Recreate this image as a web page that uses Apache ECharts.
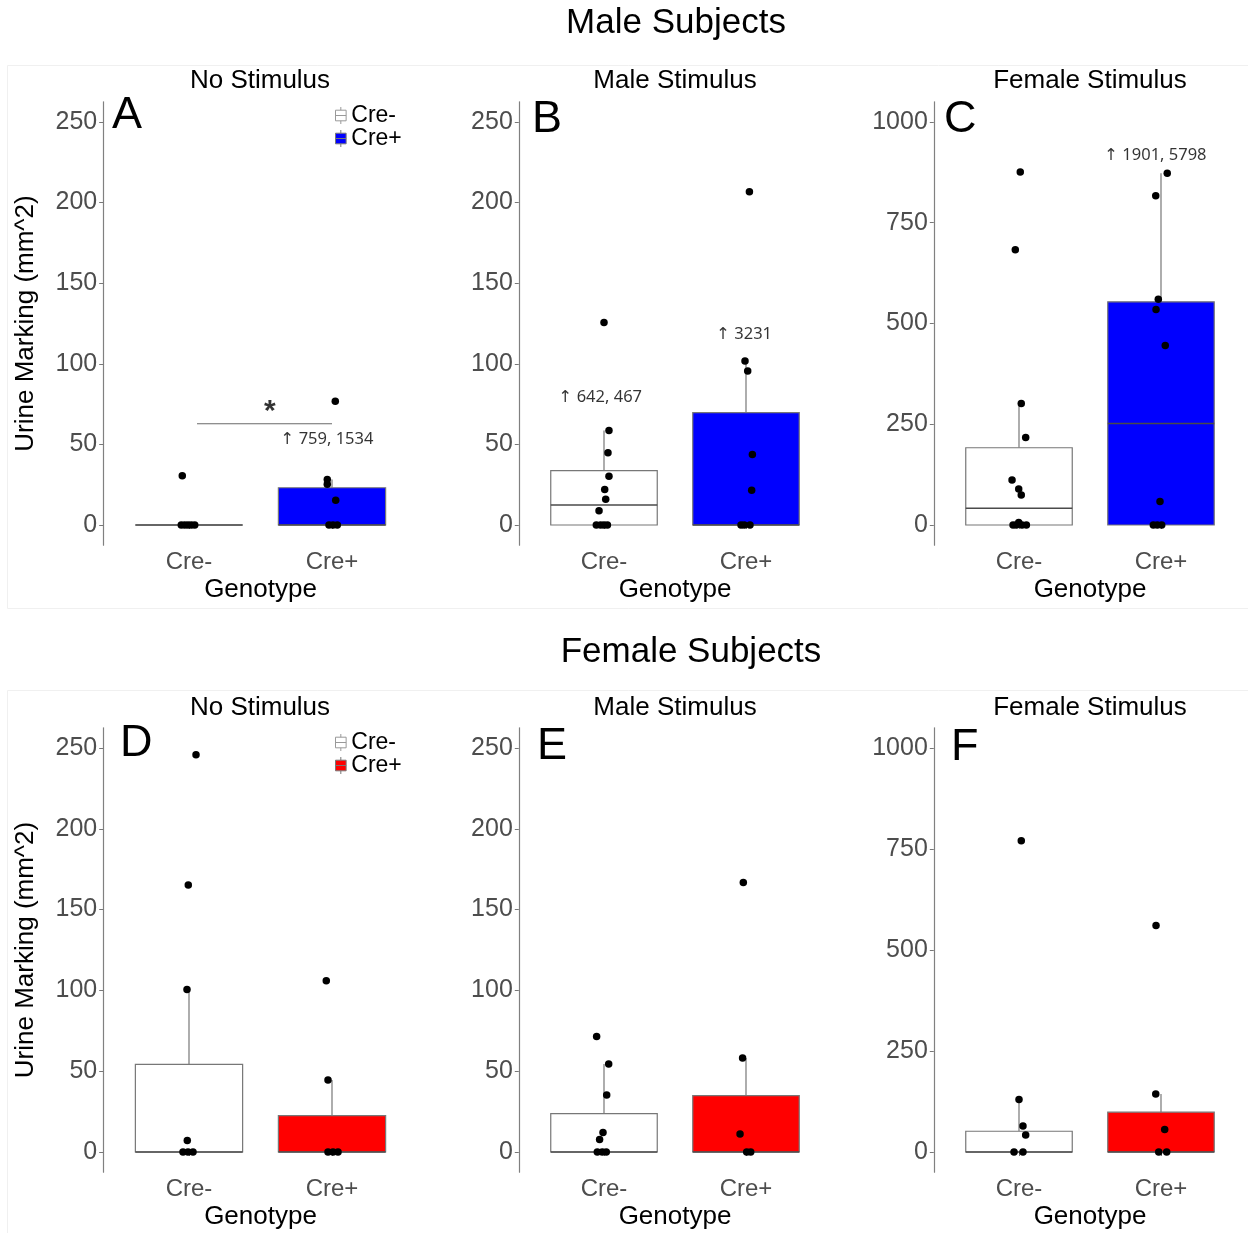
<!DOCTYPE html>
<html>
<head>
<meta charset="utf-8">
<title>Urine marking</title>
<script src="https://cdn.jsdelivr.net/npm/echarts@6/dist/echarts.min.js"></script>
<style>
  html, body { margin: 0; padding: 0; background: #fff; }
  #chart { width: 1248px; height: 1233px; }
</style>
</head>
<body>
<div id="chart"></div>
<script>
// categories / ticks
const genotypes = ['Cre-', 'Cre+'];
const ticksSmall = [0, 50, 100, 150, 200, 250];
const ticksLarge = [0, 250, 500, 750, 1000];

// box stats per panel: [x, q1, median, q3, upper whisker]
const boxA = [[1, 0, 0, 0, 0], [2, 0, 0, 23.1, 28.2]];
const boxB = [[1, 0, 12.4, 33.7, 58.6], [2, 0, 0, 69.7, 101.8]];
const boxC = [[1, 0, 41.7, 191.7, 301.7], [2, 0, 252, 553.7, 873]];
const boxD = [[1, 0, 0, 54.2, 100.6], [2, 0, 0, 22.5, 44.5]];
const boxE = [[1, 0, 0, 23.8, 54.4], [2, 0, 0, 34.9, 58.2]];
const boxF = [[1, 0, 0, 51.4, 130.1], [2, 0, 0, 98.5, 143.8]];

// jittered points [x, value]
const ptsA = [[0.953, 30.6], [0.946, 0], [0.970, 0], [0.993, 0], [1.016, 0], [1.040, 0],
  [1.967, 28.2], [1.967, 25.3], [2.026, 15.3], [1.979, 0], [2.007, 0], [2.037, 0], [2.023, 76.8]];
const ptsB = [[1.035, 58.6], [1.028, 44.8], [1.035, 30.2], [1.005, 22.0], [1.012, 16.0], [0.965, 8.9],
  [0.946, 0], [0.976, 0], [1.0, 0], [1.024, 0], [1.0, 125.6],
  [1.993, 101.8], [2.012, 95.6], [2.045, 43.7], [2.040, 21.5], [1.965, 0], [1.988, 0], [2.028, 0], [2.024, 206.7]];
const ptsC = [[1.016, 301.7], [1.047, 217.4], [0.951, 111.8], [0.998, 89.6], [1.016, 74.5],
  [0.958, 0], [0.981, 0], [0.998, 6], [1.021, 0], [1.052, 0], [1.009, 875.8], [0.974, 683.2],
  [2.044, 873.1], [1.963, 817.2], [1.981, 559.9], [1.965, 535.0], [2.030, 445.4], [1.993, 58.6],
  [1.946, 0], [1.974, 0], [2.005, 0]];
const ptsD = [[0.986, 100.6], [0.995, 165.2], [1.049, 245.9], [0.988, 7.1], [0.958, 0], [0.993, 0], [1.028, 0],
  [1.972, 44.5], [1.960, 106.0], [1.972, 0], [2.007, 0], [2.042, 0]];
const ptsE = [[1.033, 54.4], [1.019, 35.3], [0.948, 71.5], [0.993, 12.0], [0.969, 7.7], [0.953, 0], [0.988, 0], [1.016, 0],
  [1.976, 58.2], [1.981, 166.7], [1.958, 11.1], [2.005, 0], [2.033, 0]];
const ptsF = [[1.0, 130.1], [1.016, 770.5], [1.028, 64.2], [1.047, 42.0], [0.965, 0], [1.028, 0],
  [1.963, 143.8], [1.965, 560.8], [2.026, 55.7], [1.984, 0], [2.040, 0]];

// off-scale notes [x, value, text]
const notesA = [[1.64, 53.2, '\u2191 759, 1534']];
const notesB = [[0.68, 79.2, '\u2191 642, 467'], [1.79, 118.5, '\u2191 3231']];
const notesC = [[1.60, 917.5, '\u2191 1901, 5798']];
const sigA = [[1.056, 62.8], [2, 62.8]];
const starA = [[1.566, 70.5]];

const FONT = "'Liberation Sans', Arial, sans-serif";
const blue = '#0000ff', red = '#ff0000';
const boxLine = '#777777';

const panels = [
  { left: 103.2, top: 101.85, width: 314.6, height: 443.3, min: -12.5, max: 262.5, ticks: ticksSmall, box: boxA, pts: ptsA, fill: blue, ylab: true, notes: notesA },
  { left: 518.8, top: 101.85, width: 312.4, height: 443.3, min: -12.5, max: 262.5, ticks: ticksSmall, box: boxB, pts: ptsB, fill: blue, notes: notesB },
  { left: 933.8, top: 101.85, width: 312.4, height: 443.3, min: -50, max: 1050, ticks: ticksLarge, box: boxC, pts: ptsC, fill: blue, notes: notesC },
  { left: 103.2, top: 727.8, width: 314.6, height: 444.4, min: -12.5, max: 262.5, ticks: ticksSmall, box: boxD, pts: ptsD, fill: red, ylab: true },
  { left: 518.8, top: 727.8, width: 312.4, height: 444.4, min: -12.5, max: 262.5, ticks: ticksSmall, box: boxE, pts: ptsE, fill: red },
  { left: 933.8, top: 727.8, width: 312.4, height: 444.4, min: -50, max: 1050, ticks: ticksLarge, box: boxF, pts: ptsF, fill: red }
];

function renderBox(params, api) {
  const x = api.value(0);
  const w = 0.75 * api.size([1, 0])[0];
  const p1 = api.coord([x, api.value(1)]);
  const pm = api.coord([x, api.value(2)]);
  const p3 = api.coord([x, api.value(3)]);
  const ph = api.coord([x, api.value(4)]);
  return {
    type: 'group',
    children: [
      { type: 'line', shape: { x1: p3[0], y1: p3[1], x2: ph[0], y2: ph[1] }, style: { stroke: boxLine, lineWidth: 1.2 } },
      { type: 'rect', shape: { x: p1[0] - w / 2, y: p3[1], width: w, height: p1[1] - p3[1] },
        style: { fill: api.visual('color'), stroke: boxLine, lineWidth: 1.2 } },
      { type: 'line', shape: { x1: pm[0] - w / 2, y1: pm[1], x2: pm[0] + w / 2, y2: pm[1] }, style: { stroke: '#4a4a4a', lineWidth: 1.4 } }
    ]
  };
}

const grid = [], xAxis = [], yAxis = [], series = [];
panels.forEach((p, i) => {
  grid.push({ left: p.left, top: p.top, width: p.width, height: p.height });
  xAxis.push({
    type: 'value', gridIndex: i, min: 0.4, max: 2.6,
    name: 'Genotype', nameLocation: 'middle', nameGap: 32,
    nameTextStyle: { fontFamily: FONT, fontSize: 26, color: '#000' },
    axisLine: { show: false },
    axisTick: { show: true, length: 4, customValues: [1, 2], lineStyle: { color: '#777' } },
    axisLabel: { customValues: [1, 2], margin: 5, fontFamily: FONT, fontSize: 24, color: '#4d4d4d',
      formatter: v => genotypes[Math.round(v) - 1] },
    splitLine: { show: false }
  });
  yAxis.push({
    type: 'value', gridIndex: i, min: p.min, max: p.max,
    name: p.ylab ? 'Urine Marking (mm^2)' : '', nameLocation: 'middle', nameGap: 64,
    nameTextStyle: { fontFamily: FONT, fontSize: 26, color: '#000' },
    axisLine: { show: true, lineStyle: { color: '#808080', width: 1.2 } },
    axisTick: { show: true, length: 4, customValues: p.ticks, lineStyle: { color: '#777' } },
    axisLabel: { customValues: p.ticks, margin: 6, fontFamily: FONT, fontSize: 25, color: '#4d4d4d',
      formatter: v => String(v) },
    splitLine: { show: false }
  });
  series.push({
    name: 'Cre-', type: 'custom', xAxisIndex: i, yAxisIndex: i, renderItem: renderBox,
    itemStyle: { color: '#ffffff' }, data: [p.box[0]], z: 2
  });
  series.push({
    name: 'Cre+', type: 'custom', xAxisIndex: i, yAxisIndex: i, renderItem: renderBox,
    itemStyle: { color: p.fill }, data: [p.box[1]], z: 2
  });
  series.push({
    name: 'points', type: 'scatter', xAxisIndex: i, yAxisIndex: i, symbolSize: 7.5,
    itemStyle: { color: '#000', opacity: 1 }, data: p.pts, z: 5, silent: true
  });
  if (p.notes) {
    series.push({
      name: 'notes', type: 'scatter', xAxisIndex: i, yAxisIndex: i, symbolSize: 0,
      data: p.notes.map(n => ({ value: [n[0], n[1]], name: n[2] })),
      label: { show: true, position: 'inside', align: 'left', verticalAlign: 'middle', formatter: '{b}',
        fontFamily: "'Noto Sans', 'DejaVu Sans', sans-serif", fontSize: 16.5, color: '#000' },
      silent: true, z: 6
    });
  }
});

// significance bar and star in panel A
series.push({
  name: 'sig', type: 'line', xAxisIndex: 0, yAxisIndex: 0, data: sigA, symbol: 'none',
  lineStyle: { color: '#6a6a6a', width: 1.2 }, silent: true, z: 4
});
series.push({
  name: 'star', type: 'scatter', xAxisIndex: 0, yAxisIndex: 0, symbolSize: 0, data: starA,
  label: { show: true, position: 'inside', formatter: '*', fontFamily: FONT, fontSize: 30, fontWeight: 'bold', color: '#000' },
  silent: true
});

const boxIcon = 'path://M5,0 L5,3 M0,3 L10,3 L10,13 L0,13 Z M0,8 L10,8 M5,13 L5,16';
function legendFor(left, top, fill) {
  return {
    left: left, top: top, orient: 'vertical', selectedMode: false,
    itemWidth: 11, itemHeight: 17, itemGap: 0, padding: 0,
    textStyle: { fontFamily: FONT, fontSize: 23, color: '#000', lineHeight: 22 },
    data: [
      { name: 'Cre-', icon: boxIcon, itemStyle: { color: '#fff', borderColor: '#999', borderWidth: 1 } },
      { name: 'Cre+', icon: boxIcon, itemStyle: { color: fill, borderColor: '#777', borderWidth: 1 } }
    ]
  };
}

function txt(x, y, s, size, extra) {
  return Object.assign({ type: 'text', x: x, y: y, silent: true,
    style: { text: s, fontFamily: FONT, fontSize: size, fill: '#000', align: 'center', verticalAlign: 'middle' } }, extra || {});
}
function letter(x, y, s) {
  const t = txt(x, y, s, 45);
  t.style.align = 'left';
  return t;
}

const graphic = [
  { type: 'rect', shape: { x: 7.5, y: 65.5, width: 1245, height: 543 }, style: { fill: 'none', stroke: '#f0f0f0', lineWidth: 1 }, silent: true, z: -1 },
  { type: 'rect', shape: { x: 7.5, y: 690.5, width: 1245, height: 545 }, style: { fill: 'none', stroke: '#f0f0f0', lineWidth: 1 }, silent: true, z: -1 },
  txt(676, 23, 'Male Subjects', 35),
  txt(691, 652, 'Female Subjects', 35),
  txt(260, 81, 'No Stimulus', 26),
  txt(675, 81, 'Male Stimulus', 26),
  txt(1090, 81, 'Female Stimulus', 26),
  txt(260, 708, 'No Stimulus', 26),
  txt(675, 708, 'Male Stimulus', 26),
  txt(1090, 708, 'Female Stimulus', 26),
  letter(112, 116, 'A'), letter(532, 120, 'B'), letter(944, 120, 'C'),
  letter(120, 744, 'D'), letter(537, 747, 'E'), letter(951, 748, 'F')
];

const chart = echarts.init(document.getElementById('chart'), null, { renderer: 'canvas' });
chart.setOption({
  animation: false,
  backgroundColor: '#ffffff',
  grid: grid,
  xAxis: xAxis,
  yAxis: yAxis,
  legend: [legendFor(335, 104, blue), legendFor(335, 731, red)],
  graphic: graphic,
  series: series
});
</script>
</body>
</html>
